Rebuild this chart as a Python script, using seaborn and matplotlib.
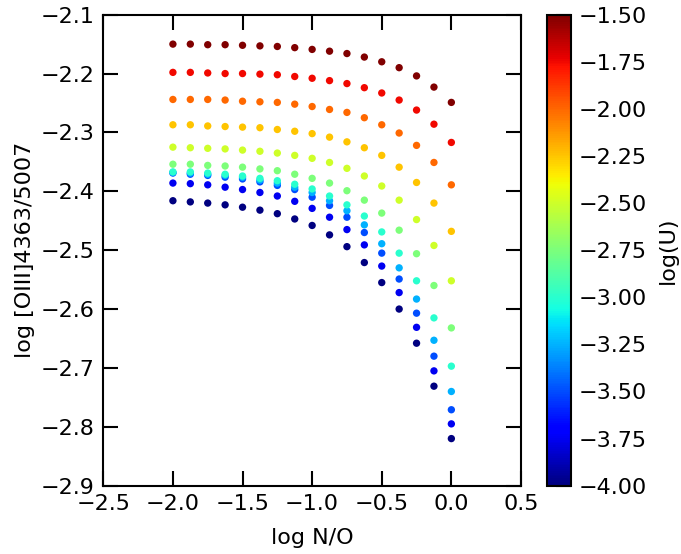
import matplotlib
matplotlib.use('Agg')
import matplotlib.pyplot as plt
import matplotlib as mpl
import seaborn as sns
import pandas as pd

# x grid: log N/O
log_no = [-2.0, -1.875, -1.75, -1.625, -1.5, -1.375, -1.25, -1.125, -1.0,
          -0.875, -0.75, -0.625, -0.5, -0.375, -0.25, -0.125, 0.0]

# ionisation parameter of each model track
log_u = [-4.0, -3.75, -3.5, -3.25, -3.0, -2.75, -2.5, -2.25, -2.0, -1.75, -1.5]

# log [OIII]4363/5007 for each log(U) track
ratio_u400 = [-2.416, -2.418, -2.420, -2.423, -2.427, -2.432, -2.438, -2.447, -2.458,
              -2.474, -2.494, -2.521, -2.555, -2.600, -2.658, -2.731, -2.820]
ratio_u375 = [-2.386, -2.387, -2.389, -2.393, -2.397, -2.402, -2.408, -2.417, -2.429,
              -2.444, -2.465, -2.491, -2.527, -2.572, -2.631, -2.705, -2.795]
ratio_u350 = [-2.369, -2.371, -2.373, -2.376, -2.379, -2.384, -2.390, -2.397, -2.410,
              -2.424, -2.444, -2.470, -2.505, -2.549, -2.607, -2.680, -2.771]
ratio_u325 = [-2.368, -2.369, -2.371, -2.373, -2.376, -2.381, -2.386, -2.393, -2.402,
              -2.416, -2.433, -2.457, -2.489, -2.530, -2.583, -2.653, -2.740]
ratio_u300 = [-2.367, -2.367, -2.369, -2.371, -2.374, -2.378, -2.382, -2.388, -2.396,
              -2.408, -2.423, -2.442, -2.469, -2.505, -2.552, -2.615, -2.697]
ratio_u275 = [-2.354, -2.354, -2.356, -2.357, -2.359, -2.362, -2.365, -2.371, -2.378,
              -2.386, -2.399, -2.415, -2.437, -2.466, -2.506, -2.560, -2.632]
ratio_u250 = [-2.325, -2.326, -2.327, -2.328, -2.330, -2.332, -2.335, -2.339, -2.344,
              -2.351, -2.361, -2.374, -2.391, -2.415, -2.448, -2.492, -2.552]
ratio_u225 = [-2.287, -2.287, -2.289, -2.290, -2.291, -2.292, -2.295, -2.298, -2.302,
              -2.308, -2.316, -2.326, -2.339, -2.359, -2.385, -2.420, -2.468]
ratio_u200 = [-2.244, -2.244, -2.244, -2.245, -2.247, -2.248, -2.249, -2.252, -2.256,
              -2.261, -2.266, -2.275, -2.287, -2.301, -2.322, -2.351, -2.389]
ratio_u175 = [-2.198, -2.198, -2.199, -2.200, -2.200, -2.201, -2.202, -2.205, -2.208,
              -2.212, -2.217, -2.224, -2.233, -2.245, -2.262, -2.286, -2.317]
ratio_u150 = [-2.150, -2.150, -2.151, -2.151, -2.152, -2.153, -2.154, -2.156, -2.159,
              -2.162, -2.166, -2.172, -2.180, -2.190, -2.204, -2.223, -2.249]

tracks = [ratio_u400, ratio_u375, ratio_u350, ratio_u325, ratio_u300, ratio_u275,
          ratio_u250, ratio_u225, ratio_u200, ratio_u175, ratio_u150]

# long table for seaborn
rows = []
for u, ys in zip(log_u, tracks):
    for x, y in zip(log_no, ys):
        rows.append({'logNO': x, 'ratio': y, 'logU': u})
df = pd.DataFrame(rows)

sns.set_theme(style='ticks')
plt.rcParams['font.family'] = ['DejaVu Sans']
plt.rcParams['axes.linewidth'] = 1.5
for key in ['text.color', 'axes.labelcolor', 'xtick.color', 'ytick.color', 'axes.edgecolor']:
    plt.rcParams[key] = 'black'

fig = plt.figure(figsize=(6.81, 5.54), dpi=100)
ax = fig.add_axes([0.1517, 0.1233, 0.6133, 0.8502])
cax = fig.add_axes([0.8028, 0.1233, 0.0352, 0.8502])

jet = plt.get_cmap('jet')
norm = mpl.colors.Normalize(vmin=-4.0, vmax=-1.5)
sns.scatterplot(data=df, x='logNO', y='ratio', hue='logU', palette=jet,
                hue_norm=norm, s=28, linewidth=0, legend=False, ax=ax)

ax.set_xlim(-2.5, 0.5)
ax.set_ylim(-2.9, -2.1)
ax.set_xticks([-2.5, -2.0, -1.5, -1.0, -0.5, 0.0, 0.5])
ax.set_yticks([-2.9, -2.8, -2.7, -2.6, -2.5, -2.4, -2.3, -2.2, -2.1])
ax.set_xlabel('log N/O', fontsize=16, labelpad=10)
ax.set_ylabel('log [OIII]4363/5007', fontsize=16, labelpad=4)
ax.tick_params(direction='in', length=11, width=1.5, labelsize=16,
               top=True, right=True, pad=6)

# colorbar for log(U)
minus_fmt = mpl.ticker.FuncFormatter(lambda v, p: f'{v:.2f}'.replace('-', '\u2212'))
sm = mpl.cm.ScalarMappable(norm=norm, cmap=jet)
cb = fig.colorbar(sm, cax=cax, ticks=log_u, format=minus_fmt)
cb.outline.set_linewidth(1.5)
cb.outline.set_edgecolor('black')
cax.tick_params(direction='in', length=11, width=1.5, labelsize=16, pad=6)
cb.set_label('log(U)', fontsize=16, labelpad=8)

fig.savefig('out.png', dpi=100)
